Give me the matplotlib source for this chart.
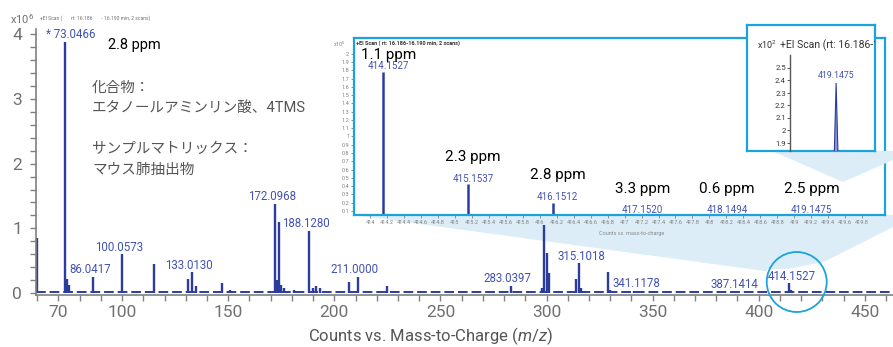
import matplotlib
matplotlib.use("Agg")
import matplotlib.pyplot as plt
from matplotlib.patches import Polygon, Ellipse
from matplotlib.ticker import MultipleLocator, FixedLocator, FormatStrFormatter
import numpy as np

plt.rcParams['font.family'] = ['Roboto', 'Noto Sans CJK JP']
plt.rcParams['mathtext.fontset'] = 'custom'
plt.rcParams['mathtext.rm'] = 'Roboto'
plt.rcParams['mathtext.it'] = 'Roboto:italic'

# main spectrum (counts x10^6)
main_mz = [60.0, 73.0466, 74.0, 75.0, 86.0417, 100.0573, 115.0, 131.0, 133.0130, 135.0,
           147.0, 151.0, 172.0968, 173.1, 174.1, 175.1, 176.1, 181.0, 188.1280, 190.0,
           191.5, 193.4, 207.0, 211.0000, 225.0, 283.0397, 298.0, 299.0, 300.0, 301.0,
           314.0, 315.1018, 316.2, 329.0, 330.0, 341.1178, 387.1414, 414.1527, 415.15]
main_int = [0.85, 3.88, 0.22, 0.13, 0.25, 0.60, 0.45, 0.22, 0.32, 0.11,
            0.15, 0.04, 1.38, 0.20, 1.10, 0.13, 0.08, 0.05, 0.96, 0.08,
            0.11, 0.08, 0.17, 0.25, 0.11, 0.11, 0.08, 1.05, 0.62, 0.31,
            0.22, 0.46, 0.08, 0.33, 0.05, 0.03, 0.02, 0.15, 0.04]
label_mz = [73.0466, 86.0417, 100.0573, 133.0130, 172.0968, 188.1280, 211.0000,
            283.0397, 315.1018, 341.1178, 387.1414, 414.1527]
label_txt = ['* 73.0466', '86.0417', '100.0573', '133.0130', '172.0968', '188.1280', '211.0000',
             '283.0397', '315.1018', '341.1178', '387.1414', '414.1527']
main_xticks = [70, 100, 150, 200, 250, 300, 350, 400, 450]

# molecular ion cluster (counts x10^5)
iso_mz = [414.1527, 415.1537, 416.1512, 417.1520, 418.1494, 419.1475]
iso_int = [1.78, 0.42, 0.20, 0.010, 0.008, 0.0024]
iso_ppm = ['1.1 ppm', '2.3 ppm', '2.8 ppm', '3.3 ppm', '0.6 ppm', '2.5 ppm']

# 419 peak zoom (counts x10^2)
zoom_mz = 419.1475
zoom_int = 2.38

W, H = 893, 347
blue = '#2b3c9e'
lblue = '#4252b2'
cyan = '#1ba3dc'
wedge = '#dcedf8'
grey = '#707070'


def fp(x, y):
    # pixel position (from top-left) to figure fraction
    return (x / W, 1 - y / H)


fig = plt.figure(figsize=(W / 100, H / 100), dpi=100)
fig.patch.set_facecolor('white')

# ---- main spectrum
ax = fig.add_axes([36 / W, 1 - 295 / H, (W - 36) / W, (295 - 29) / H], zorder=1)
ax.set_facecolor('none')
ax.vlines(main_mz, 0, main_int, color=blue, lw=1.7)
ax.axhline(0.012, color=blue, lw=1.4, dashes=(5, 2))
ax.set_xlim(59.4, 463.3)
ax.set_ylim(-0.03, 4.08)
for mz, t in zip(label_mz, label_txt):
    h = main_int[main_mz.index(mz)]
    dx = 4 if t.startswith('*') else (2 if mz > 300 else -2)
    ax.annotate(t, (mz, max(h, 0.02)), xytext=(dx, 0.5), textcoords='offset points',
                ha='center', va='bottom', color=lblue, fontsize=8.3, zorder=3,
                bbox=dict(fc='white', ec='none', pad=0.3) if mz > 400 else None)
ax.xaxis.set_major_locator(FixedLocator(main_xticks))
ax.xaxis.set_minor_locator(MultipleLocator(10))
ax.yaxis.set_major_locator(MultipleLocator(1))
ax.yaxis.set_minor_locator(MultipleLocator(0.2))
for s in ['top', 'right']:
    ax.spines[s].set_visible(False)
for s in ['left', 'bottom']:
    ax.spines[s].set_color('#808080')
    ax.spines[s].set_linewidth(1.2)
ax.tick_params(which='both', colors='#808080', labelcolor=grey, labelsize=12.5, length=4, width=1)
ax.tick_params(axis='x', pad=3)
ax.tick_params(axis='y', pad=6)

fig.text(*fp(10, 19), 'x10$^6$', fontsize=8, color=grey, va='center')
fig.text(*fp(40, 18), '+EI Scan (       rt: 16.186       - 16.190 min, 2 scans)',
         fontsize=3.6, color=grey, va='center')
fig.text(*fp(431, 336), 'Counts vs. Mass-to-Charge ($\\it{m/z}$)', fontsize=12,
         color='#555555', ha='center', va='center')
fig.text(*fp(108, 45), '2.8 ppm', fontsize=10.5, color='black', va='center')
jp_lines = ['化合物：', 'エタノールアミンリン酸、4TMS', 'サンプルマトリックス：', 'マウス肺抽出物']
for t, y in zip(jp_lines, [88, 108, 149, 170]):
    fig.text(*fp(92, y), t, fontsize=10.5, color='#555555', va='center')

# circle around molecular ion and zoom wedge
fig.canvas.draw()
px = ax.transData.transform((414.1527, 0))[0] + 8
cy = 282
r = 30
circ = Ellipse(fp(px, cy), 2 * r / W, 2 * r / H, transform=fig.transFigure,
               fill=False, ec=cyan, lw=1.3, zorder=2.5)
fig.add_artist(circ)
w1 = Polygon([fp(354, 215), fp(893, 215), fp(893, 227), fp(px + 27, cy - 20), fp(px - 25, cy - 10)],
             closed=True, transform=fig.transFigure, fc=wedge, ec='none', zorder=0.5)
fig.add_artist(w1)

# ---- inset: isotope cluster
ax1 = fig.add_axes([354 / W, 1 - 215 / H, 531 / W, 177 / H], zorder=3)
ax1.vlines(iso_mz, 0, iso_int, color=blue, lw=1.8)
ax1.set_xlim(413.81, 420.07)
ax1.set_ylim(0.05, 2.19)
for mz, h, p in zip(iso_mz, iso_int, iso_ppm):
    base = max(h, 0.04)
    ax1.text(mz + 0.06, base + 0.07, '%.4f' % mz, ha='center', va='center',
             color=lblue, fontsize=7)
    ax1.text(mz + 0.06, min(base + 0.33, 1.98), p, ha='center', va='center',
             color='black', fontsize=11)
ax1.xaxis.set_major_locator(FixedLocator(np.round(np.arange(414, 419.81, 0.2), 1)))
ax1.yaxis.set_major_locator(FixedLocator(np.round(np.arange(0.1, 2.01, 0.1), 1)))
ax1.xaxis.set_major_formatter(FormatStrFormatter('%g'))
ax1.yaxis.set_major_formatter(FormatStrFormatter('%g'))
ax1.tick_params(colors='#808080', labelcolor='#808080', labelsize=4, length=2, width=0.6, pad=1.5)
for s in ax1.spines.values():
    s.set_color(cyan)
    s.set_linewidth(1.6)
ax1.text(0.003, 0.985, '+EI Scan ( rt: 16.186-16.190 min, 2 scans)', transform=ax1.transAxes,
         fontsize=4, va='top', color='#333333', weight='bold')
fig.text(*fp(333, 44), 'x10$^5$', fontsize=4, color='#808080', va='center')
fig.text(*fp(632, 233), 'Counts vs. mass-to-charge', fontsize=4, color='#888888',
         ha='center', va='center')

w2 = Polygon([fp(772, 151), fp(893, 151), fp(893, 160), fp(843, 182)], closed=True,
             transform=fig.transFigure, fc=wedge, ec='none', zorder=4)
fig.add_artist(w2)

# ---- inset: 419 peak
box = fig.add_axes([747 / W, 1 - 151 / H, 128 / W, 126 / H], zorder=5)
box.set_xticks([])
box.set_yticks([])
for s in box.spines.values():
    s.set_color(cyan)
    s.set_linewidth(1.6)
box.text(*((757 - 747) / 128, 1 - (45 - 25) / 126), 'x10$^2$', transform=box.transAxes,
         fontsize=6.5, color='#333333', va='center')
box.text(*((780 - 747) / 128, 1 - (45 - 25) / 126), '+EI Scan (rt: 16.186-16.190 min, 2 scans)',
         transform=box.transAxes, fontsize=7.5, color='#333333', va='center', clip_on=True)

ax2 = fig.add_axes([790 / W, 1 - 151 / H, 82 / W, 96 / H], zorder=6)
ax2.set_facecolor('none')
ax2.fill([zoom_mz - 0.035, zoom_mz, zoom_mz + 0.035], [1.5, zoom_int, 1.5],
         fc='#8c96d6', ec=blue, lw=0.8)
ax2.set_xlim(zoom_mz - 0.5625, zoom_mz + 0.4375)
ax2.set_ylim(1.836, 2.604)
ax2.annotate('%.4f' % zoom_mz, (zoom_mz, zoom_int), xytext=(0, 2), textcoords='offset points',
             ha='center', va='bottom', color=lblue, fontsize=6.3)
ax2.set_xticks([])
ax2.yaxis.set_major_locator(FixedLocator(np.round(np.arange(1.9, 2.51, 0.1), 1)))
ax2.yaxis.set_major_formatter(FormatStrFormatter('%g'))
ax2.tick_params(colors='#444444', labelcolor='#333333', labelsize=5.5, length=2, width=0.6, pad=1)
for s in ['top', 'right', 'bottom']:
    ax2.spines[s].set_visible(False)
ax2.spines['left'].set_color('#555555')
ax2.spines['left'].set_linewidth(1)

fig.savefig('out.png', dpi=100)
